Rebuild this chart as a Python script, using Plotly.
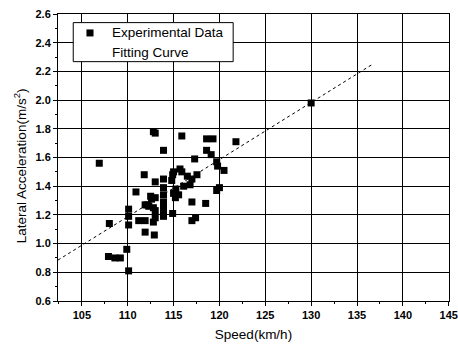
import plotly.graph_objects as go

speed = [106.9, 107.9, 108.6, 109.2, 108.0, 109.9, 110.1, 110.1, 110.1, 110.1,
         110.9, 111.2, 111.8, 111.9, 111.9, 111.9, 112.3, 112.5, 112.6, 112.8,
         113.0, 112.8, 112.8, 112.9, 113.0, 113.0, 113.0, 113.0, 113.9, 113.9,
         113.9, 113.9, 113.9, 113.9, 113.9, 114.9, 114.8, 115.0, 115.0, 114.9,
         115.2, 115.25, 115.55, 115.7, 115.9, 115.9, 116.1, 116.8, 116.5, 117.0,
         117.0, 117.0, 117.3, 117.4, 117.55, 118.6, 119.3, 118.6, 119.1, 118.5,
         119.7, 119.8, 120.0, 119.7, 120.5, 121.8, 130.0, 113.9, 112.1]
accel = [1.56, 0.91, 0.90, 0.90, 1.14, 0.96, 0.81, 1.13, 1.19, 1.24,
         1.36, 1.16, 1.48, 1.16, 1.27, 1.08, 1.26, 1.33, 1.31, 1.78,
         1.77, 1.25, 1.15, 1.06, 1.43, 1.32, 1.23, 1.18, 1.45, 1.65,
         1.39, 1.34, 1.29, 1.26, 1.23, 1.48, 1.44, 1.50, 1.35, 1.21,
         1.32, 1.38, 1.34, 1.52, 1.75, 1.50, 1.40, 1.41, 1.47, 1.45,
         1.16, 1.29, 1.59, 1.18, 1.48, 1.73, 1.73, 1.65, 1.62, 1.28,
         1.57, 1.54, 1.39, 1.37, 1.51, 1.71, 1.98, 1.19, 1.27]

# Fitting curve end points
fit_speed = [102.4, 136.7]
fit_accel = [0.885, 2.25]

x_ticks = [105, 110, 115, 120, 125, 130, 135, 140, 145]
y_ticks = [0.6, 0.8, 1.0, 1.2, 1.4, 1.6, 1.8, 2.0, 2.2, 2.4, 2.6]

legend_labels = ["Experimental Data", "Fitting Curve"]
x_title = "Speed(km/h)"
y_title = "Lateral Acceleration(m/s<sup>2</sup>)"

fig = go.Figure()
fig.add_trace(go.Scatter(
    x=speed, y=accel, mode="markers", name=legend_labels[0],
    marker=dict(symbol="square", size=7, color="black"), showlegend=False,
))
fig.add_trace(go.Scatter(
    x=fit_speed, y=fit_accel, mode="lines", name=legend_labels[1],
    line=dict(color="black", width=1, dash="3px,3px"), showlegend=False,
))

font_family = "Liberation Sans, Arial, sans-serif"
axis_common = dict(
    showline=True, linecolor="black", linewidth=1, mirror=True,
    showgrid=True, gridcolor="black", gridwidth=1,
    ticks="outside", ticklen=4, tickcolor="black", tickwidth=1,
    zeroline=False, automargin=False,
    tickfont=dict(family=font_family, size=11, color="black", weight="bold"),
)
fig.update_xaxes(
    range=[102.4, 145.03], tickvals=x_ticks, ticktext=[str(v) for v in x_ticks],
    minor=dict(dtick=2.5, tick0=102.5, ticks="outside", ticklen=2, tickcolor="black", showgrid=False),
    title=dict(text=x_title, font=dict(family=font_family, size=13.5, color="black"), standoff=9),
    **axis_common,
)
fig.update_yaxes(
    range=[0.6, 2.6], tickvals=y_ticks, ticktext=[f"{v:.1f}" for v in y_ticks],
    minor=dict(dtick=0.1, tick0=0.6, ticks="outside", ticklen=2, tickcolor="black", showgrid=False),
    **axis_common,
)
# y-axis title (placed slightly below the plot centre, as in the original)
fig.add_annotation(text=y_title, xref="paper", yref="paper", x=-0.097, y=0.47,
                   xanchor="center", yanchor="middle", textangle=-90, showarrow=False,
                   font=dict(family=font_family, size=13.5, color="black"))

# Legend box drawn in paper coordinates (box, symbol and labels)
fig.add_shape(type="rect", xref="paper", yref="paper", x0=0.039, x1=0.448, y0=0.834, y1=0.970,
              line=dict(color="black", width=1), fillcolor="white", layer="above")
fig.add_shape(type="rect", xref="paper", yref="paper", x0=0.0818 - 0.009, x1=0.0818 + 0.009,
              y0=0.934 - 0.0122, y1=0.934 + 0.0122, line=dict(width=0), fillcolor="black", layer="above")
for label, ypos in zip(legend_labels, [0.934, 0.867]):
    fig.add_annotation(text=label, xref="paper", yref="paper", x=0.133, y=ypos,
                       xanchor="left", yanchor="middle", showarrow=False,
                       font=dict(family=font_family, size=13.5, color="black"))

fig.update_layout(
    width=458, height=347,
    margin=dict(l=58, r=9, t=14, b=46),
    paper_bgcolor="white", plot_bgcolor="white",
    font=dict(family=font_family, color="black"),
    showlegend=False,
)
# remove the default 8px page margin so the figure fills the window exactly
fig.write_html("out.html", config={"displayModeBar": False},
               post_script="document.body.style.margin='0';document.body.style.overflow='hidden';")
